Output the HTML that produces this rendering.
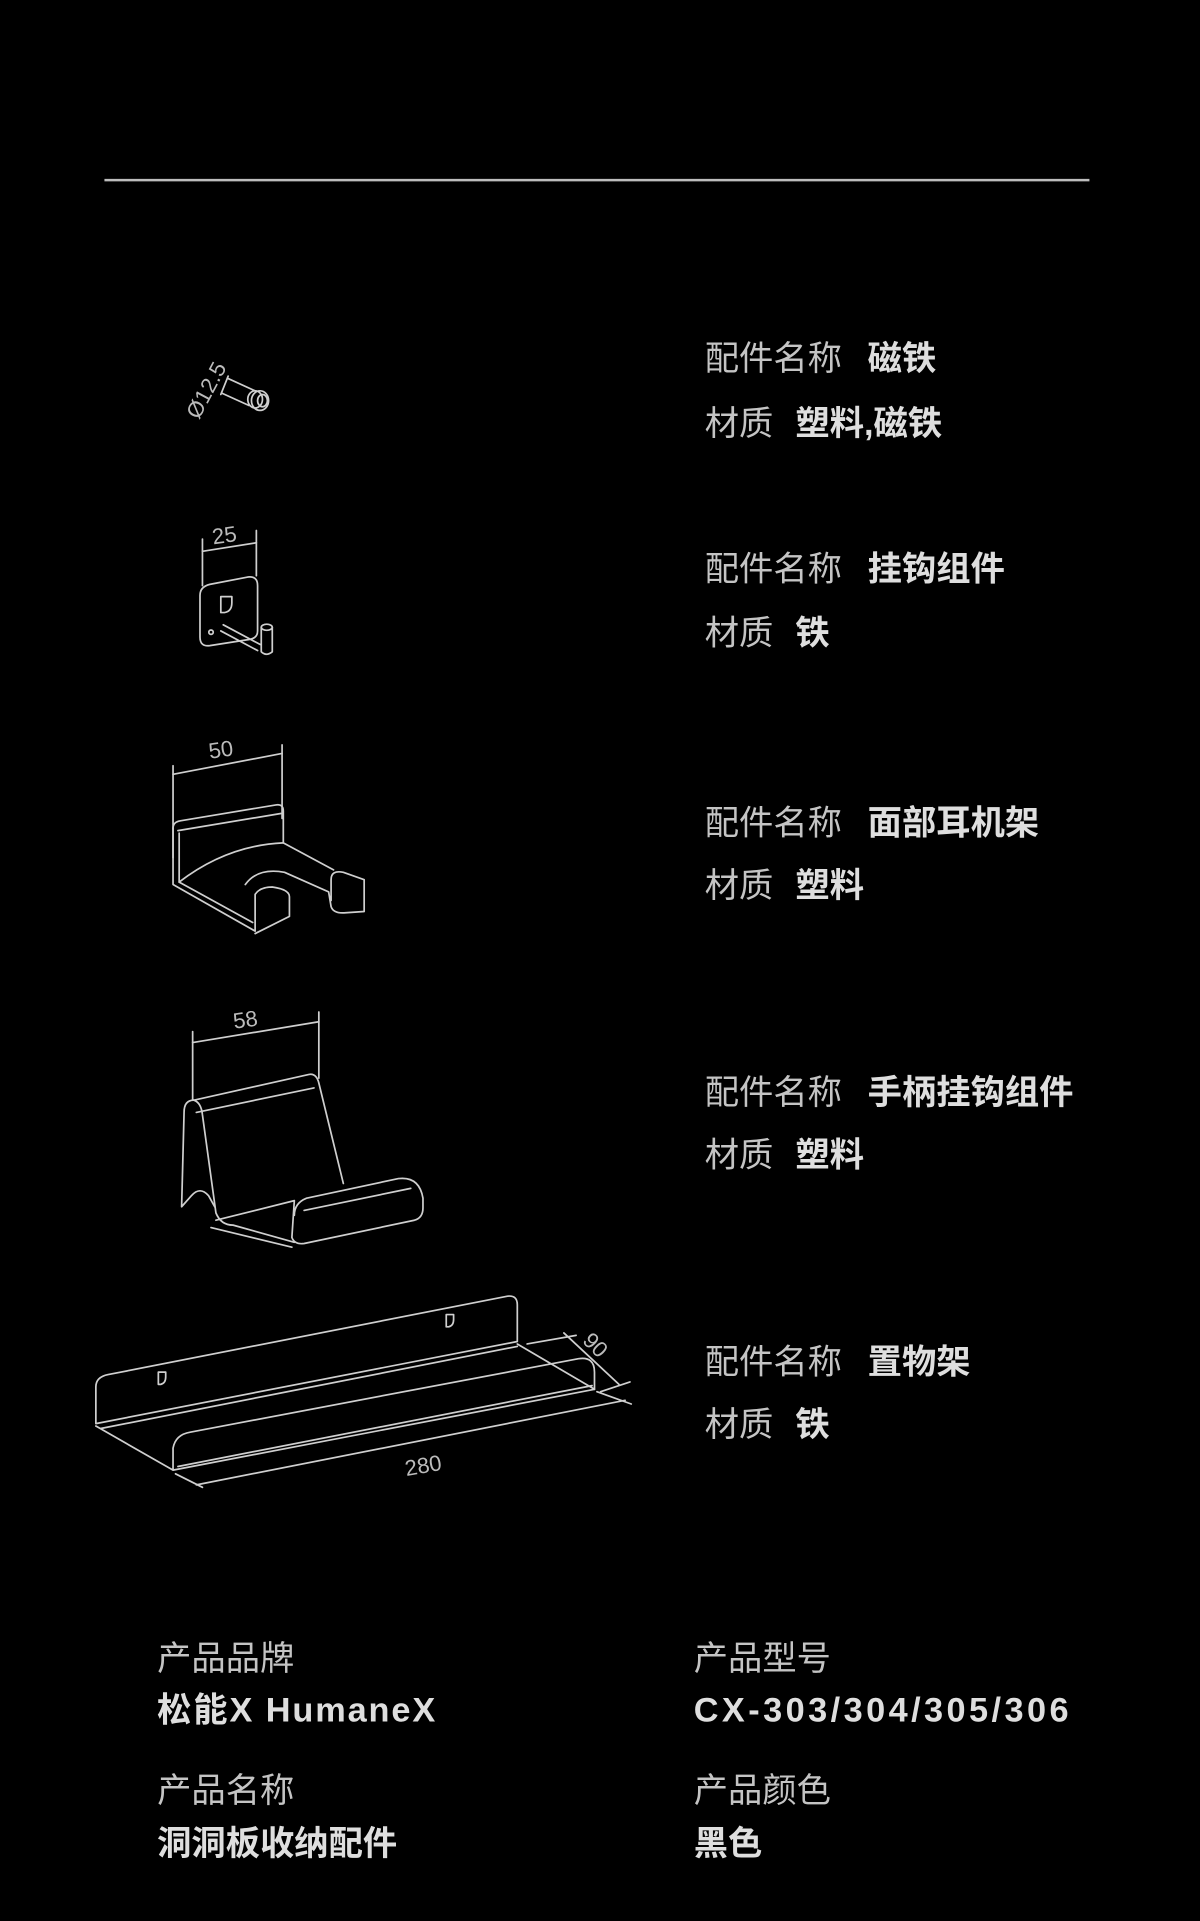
<!DOCTYPE html>
<html><head><meta charset="utf-8"><style>
html,body{margin:0;padding:0;background:#000;}
svg{display:block}
.l{font-family:"Liberation Sans","Noto Sans CJK SC",sans-serif;fill:#c4c4c4;font-size:28px}
.b{font-family:"Liberation Sans","Noto Sans CJK SC",sans-serif;fill:#dedede;font-size:28px;font-weight:bold}
.d{font-family:"Liberation Sans",sans-serif;fill:#bbb;font-size:18px}
</style></head><body>
<svg width="1200" height="1921" viewBox="0 0 979 1568" xmlns="http://www.w3.org/2000/svg">
<rect width="979" height="1568" fill="#000"/>
<line x1="85" y1="147" x2="889" y2="147" stroke="#bdbdbd" stroke-width="2"/>
<g>
<text class="l" x="575" y="302">配件名称</text><text class="b" x="708" y="302">磁铁</text>
<text class="l" x="575" y="355">材质</text><text class="b" x="649" y="355">塑料,磁铁</text>
<text class="l" x="575" y="474">配件名称</text><text class="b" x="708" y="474">挂钩组件</text>
<text class="l" x="575" y="526">材质</text><text class="b" x="649" y="526">铁</text>
<text class="l" x="575" y="681">配件名称</text><text class="b" x="708" y="681">面部耳机架</text>
<text class="l" x="575" y="732">材质</text><text class="b" x="649" y="732">塑料</text>
<text class="l" x="575" y="901">配件名称</text><text class="b" x="708" y="901">手柄挂钩组件</text>
<text class="l" x="575" y="952">材质</text><text class="b" x="649" y="952">塑料</text>
<text class="l" x="575" y="1121">配件名称</text><text class="b" x="708" y="1121">置物架</text>
<text class="l" x="575" y="1172">材质</text><text class="b" x="649" y="1172">铁</text>

<text class="l" x="128" y="1363">产品品牌</text><text class="b" x="128" y="1405" textLength="227" lengthAdjust="spacing">松能X HumaneX</text>
<text class="l" x="128" y="1471">产品名称</text><text class="b" x="128" y="1514">洞洞板收纳配件</text>
<text class="l" x="566" y="1363">产品型号</text><text class="b" x="566" y="1405" textLength="306" lengthAdjust="spacing">CX-303/304/305/306</text>
<text class="l" x="566" y="1471">产品颜色</text><text class="b" x="566" y="1514">黑色</text>
</g>
<g fill="none" stroke="#cfcfcf" stroke-width="1.4" stroke-linejoin="round" stroke-linecap="round">
<!-- magnet -->
<text class="d" x="0" y="0" stroke="none" transform="translate(162,343) rotate(-62)" font-size="20">Ø12.5</text>
<line x1="186" y1="307" x2="180" y2="322"/>
<line x1="186" y1="309" x2="208" y2="319"/>
<line x1="181" y1="321" x2="203" y2="331"/>
<ellipse cx="208" cy="326" rx="6" ry="7"/>
<ellipse cx="212" cy="327" rx="7" ry="8"/>
<ellipse cx="214" cy="327" rx="4" ry="5"/>
<!-- hook -->
<line x1="165" y1="440" x2="165" y2="478"/><line x1="209" y1="433" x2="209" y2="470"/>
<line x1="165" y1="450" x2="209" y2="443"/>
<text class="d" x="173" y="443" stroke="none" transform="rotate(-8 183 438)">25</text>
<path d="M171 477 L202 471 Q210 470 210 478 L210 515 Q210 521 203 522 L171 527 Q163 528 163 520 L163 486 Q163 479 171 477 Z"/>
<path d="M180 487 h9 v5 q0 7 -6 8 h-3 z"/>
<circle cx="172" cy="516" r="1.8"/>
<path d="M182 510 L212 526 M180 515 L210 531"/>
<path d="M213 512 L213 532 Q217 536 222 532 L222 512"/><ellipse cx="217.5" cy="512" rx="4.5" ry="2.5"/>
<!-- headphone holder -->
<line x1="141" y1="625" x2="141" y2="700"/><line x1="230" y1="608" x2="230" y2="668"/>
<line x1="141" y1="632" x2="230" y2="615"/>
<text class="d" x="170" y="618" stroke="none" transform="rotate(-8 180 612)">50</text>
<path d="M141 676 Q141 671 147 670 L225 657 Q231 656 231 662 L231 688 L272 710"/>
<path d="M145 678 L229 664"/>
<path d="M141 676 L141 722 L208 760 L208 730 Q212 724 222 724 Q236 726 236 732 L236 748 L208 762"/>
<path d="M146 680 L146 720 L206 753"/>
<path d="M146 720 Q185 690 231 688"/>
<path d="M200 722 Q210 708 232 712 L268 728 L270 740 Q272 746 282 745 L297 744 L297 718 L280 712 Q270 710 270 718 L270 735"/>
<!-- controller holder -->
<line x1="157" y1="842" x2="157" y2="898"/><line x1="260" y1="826" x2="260" y2="880"/>
<line x1="157" y1="851" x2="260" y2="834"/>
<text class="d" x="190" y="838" stroke="none" transform="rotate(-8 203 832)">58</text>
<path d="M158 898 Q150 898 150 908 L148 985 L156 976 Q163 968 170 976 L175 985"/>
<path d="M158 898 L252 877 Q258 876 260 884 L280 966"/>
<path d="M158 898 Q164 900 165 910 L176 990 Q180 1000 190 1000 L240 1014"/>
<path d="M160 908 L256 888"/>
<path d="M176 996 L240 980 L238 1010 Q240 1016 248 1015 L338 996 Q345 994 345 986 L345 978 Q342 960 325 962 L250 978 Q240 982 240 992"/>
<path d="M172 1002 L238 1018"/>
<path d="M248 988 L335 970"/>
<!-- shelf -->
<path d="M78 1162 L78 1132 Q78 1124 88 1122 L414 1058 Q422 1057 422 1065 L422 1095 L78 1162"/>
<path d="M78 1164 L141 1200 L141 1182 Q143 1171 155 1169 L472 1109 Q485 1107 485 1120 L485 1134 L141 1200"/>
<path d="M422 1097 L485 1134"/>
<path d="M82 1166 L422 1099"/>
<path d="M145 1197 L483 1131"/>
<path d="M129 1120 h6 v4 q0 5 -4 6 h-2 z"/>
<path d="M364 1073 h6 v4 q0 5 -4 6 h-2 z"/>
<line x1="160" y1="1212" x2="510" y2="1143"/>
<line x1="143" y1="1203" x2="165" y2="1214"/>
<line x1="487" y1="1136" x2="515" y2="1146"/>
<line x1="430" y1="1097" x2="470" y2="1090"/>
<line x1="490" y1="1136" x2="514" y2="1128"/>
<line x1="460" y1="1088" x2="505" y2="1130"/>
<text class="d" x="330" y="1202" stroke="none" transform="rotate(-10 347 1195)" font-size="20">280</text>
<text class="d" x="474" y="1104" stroke="none" transform="rotate(45 485 1100)" font-size="20">90</text>
</g>
</svg>
</body></html>
